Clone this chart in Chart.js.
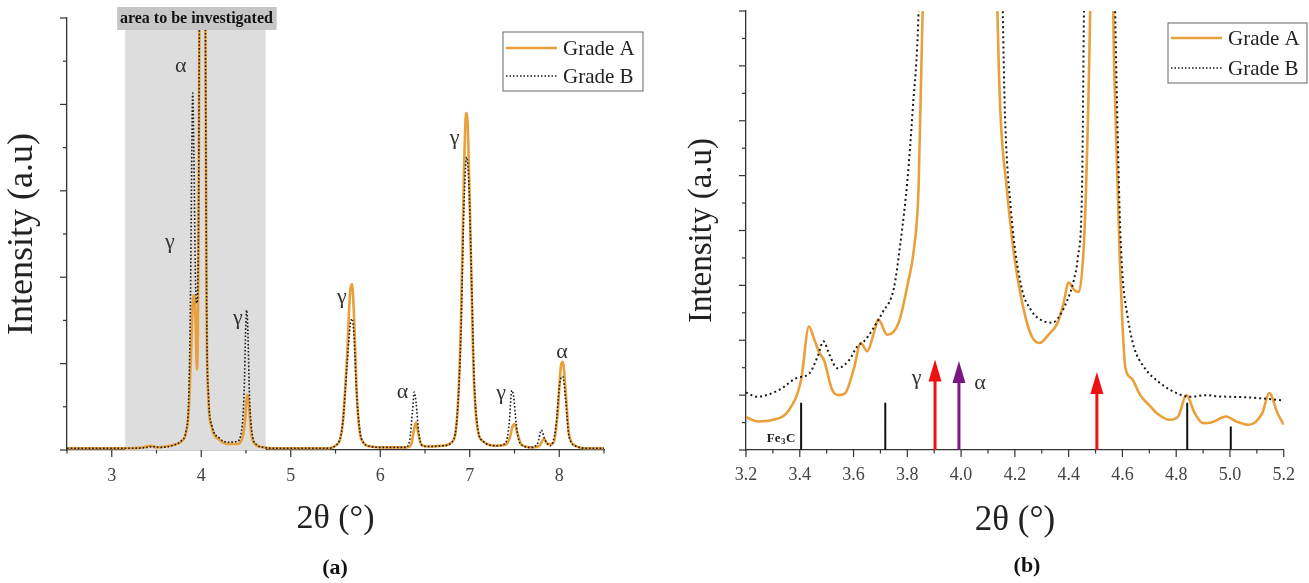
<!DOCTYPE html>
<html lang="en">
<head>
<meta charset="UTF-8">
<title>XRD patterns - Grade A / Grade B</title>
<script src="https://cdn.jsdelivr.net/npm/chart.js"></script>
<style>
  body { margin: 0; background: #fff; }
  .panel { position: absolute; top: 0; height: 583px; }
  #left { left: 0; width: 650px; }
  #right { left: 650px; width: 659px; }
</style>
</head>
<body>
<div class="panel" id="left"><canvas id="chartA"></canvas></div>
<div class="panel" id="right"><canvas id="chartB"></canvas></div>

<script>
// ---- panel (a): full pattern, 2theta 2.5 - 8.5 ----
const fullAX = [2.5, 2.9, 3.2, 3.35, 3.43, 3.5, 3.6, 3.7, 3.78, 3.83, 3.86, 3.885, 3.905, 3.92, 3.935, 3.952, 3.968, 3.98, 4.01, 4.045, 4.06, 4.08, 4.12, 4.2, 4.3, 4.4, 4.46, 4.49, 4.51, 4.52, 4.535, 4.555, 4.6, 4.7, 4.8, 5.4, 5.5, 5.58, 5.63, 5.665, 5.685, 5.705, 5.74, 5.79, 5.9, 6.0, 6.3, 6.35, 6.38, 6.4, 6.42, 6.46, 6.55, 6.7, 6.8, 6.86, 6.9, 6.935, 6.96, 6.98, 7.01, 7.04, 7.08, 7.15, 7.3, 7.4, 7.45, 7.48, 7.5, 7.53, 7.58, 7.7, 7.78, 7.83, 7.87, 7.93, 7.98, 8.02, 8.04, 8.07, 8.11, 8.2, 8.3, 8.5];
const fullAY = [0.02, 0.02, 0.02, 0.03, 0.05, 0.03, 0.04, 0.06, 0.1, 0.2, 0.45, 1.1, 1.7, 1.79, 1.55, 0.93, 2.2, 5.3, 14, 5.3, 1.6, 0.6, 0.25, 0.12, 0.07, 0.07, 0.14, 0.35, 0.62, 0.64, 0.5, 0.22, 0.07, 0.03, 0.02, 0.02, 0.05, 0.3, 1.1, 1.85, 1.92, 1.6, 0.6, 0.12, 0.04, 0.03, 0.03, 0.08, 0.25, 0.32, 0.22, 0.06, 0.04, 0.05, 0.09, 0.4, 1.4, 3.2, 3.9, 3.7, 2.4, 1.0, 0.3, 0.1, 0.05, 0.06, 0.15, 0.28, 0.3, 0.2, 0.06, 0.03, 0.05, 0.13, 0.07, 0.07, 0.4, 0.98, 1.02, 0.7, 0.18, 0.04, 0.02, 0.02];

const fullBX = [2.5, 3.2, 3.4, 3.45, 3.55, 3.7, 3.78, 3.83, 3.86, 3.88, 3.895, 3.905, 3.918, 3.935, 3.95, 3.968, 3.98, 4.01, 4.045, 4.06, 4.08, 4.12, 4.2, 4.3, 4.4, 4.45, 4.48, 4.495, 4.508, 4.52, 4.54, 4.57, 4.62, 4.7, 4.8, 5.4, 5.5, 5.58, 5.63, 5.665, 5.685, 5.705, 5.74, 5.79, 5.9, 6.0, 6.28, 6.33, 6.36, 6.38, 6.4, 6.43, 6.47, 6.55, 6.7, 6.8, 6.86, 6.9, 6.935, 6.965, 6.99, 7.02, 7.05, 7.09, 7.15, 7.3, 7.4, 7.44, 7.47, 7.49, 7.52, 7.56, 7.68, 7.76, 7.8, 7.84, 7.9, 7.96, 8.01, 8.04, 8.07, 8.11, 8.2, 8.3, 8.5];
const fullBY = [0.02, 0.02, 0.03, 0.04, 0.03, 0.06, 0.11, 0.22, 0.6, 1.8, 3.5, 4.13, 3.4, 2.0, 1.7, 2.4, 5.3, 14, 5.3, 1.7, 0.65, 0.28, 0.14, 0.09, 0.1, 0.22, 0.7, 1.35, 1.62, 1.4, 0.6, 0.18, 0.06, 0.03, 0.02, 0.02, 0.05, 0.3, 1.0, 1.45, 1.52, 1.35, 0.6, 0.13, 0.04, 0.03, 0.03, 0.12, 0.45, 0.67, 0.55, 0.2, 0.05, 0.04, 0.05, 0.09, 0.4, 1.3, 2.8, 3.39, 3.1, 2.0, 0.8, 0.25, 0.1, 0.05, 0.08, 0.3, 0.69, 0.62, 0.3, 0.08, 0.03, 0.08, 0.23, 0.12, 0.05, 0.25, 0.8, 0.85, 0.6, 0.15, 0.04, 0.02, 0.02];

const areaRange = [3.15, 4.72];

// ---- panel (b): zoom 3.2 - 5.2 ----
const zoomAX = [3.2, 3.245, 3.3, 3.36, 3.405, 3.434, 3.455, 3.473, 3.49, 3.52, 3.547, 3.57, 3.6, 3.627, 3.651, 3.676, 3.692, 3.725, 3.768, 3.805, 3.823, 3.842, 3.857, 3.87, 4.12, 4.135, 4.146, 4.169, 4.2, 4.239, 4.265, 4.292, 4.325, 4.359, 4.38, 4.4, 4.42, 4.438, 4.455, 4.465, 4.48, 4.49, 4.56, 4.566, 4.574, 4.59, 4.6, 4.611, 4.635, 4.666, 4.705, 4.728, 4.776, 4.807, 4.838, 4.869, 4.9, 4.93, 4.986, 5.023, 5.07, 5.12, 5.146, 5.177, 5.2];
const zoomAY = [0.6, 0.52, 0.55, 0.73, 1.28, 2.25, 2.0, 1.77, 1.64, 1.1, 1.0, 1.04, 1.46, 1.95, 1.8, 2.14, 2.38, 2.1, 2.32, 3.11, 3.6, 4.8, 8.0, 12, 12, 8.0, 6.17, 4.81, 3.45, 2.43, 2.05, 1.95, 2.1, 2.32, 2.65, 3.05, 2.92, 2.88, 3.6, 4.81, 8.0, 12, 12, 8.0, 6.17, 3.5, 2.3, 1.5, 1.3, 1.0, 0.79, 0.67, 0.55, 0.61, 1.0, 0.67, 0.49, 0.5, 0.61, 0.52, 0.46, 0.67, 1.04, 0.67, 0.46];

const zoomBX = [3.2, 3.24, 3.325, 3.387, 3.436, 3.467, 3.488, 3.51, 3.54, 3.584, 3.614, 3.639, 3.67, 3.707, 3.75, 3.775, 3.8, 3.82, 3.842, 3.86, 4.14, 4.155, 4.162, 4.185, 4.223, 4.26, 4.31, 4.34, 4.36, 4.396, 4.42, 4.434, 4.45, 4.457, 4.47, 4.56, 4.573, 4.58, 4.59, 4.6, 4.617, 4.642, 4.679, 4.74, 4.8, 4.85, 4.912, 4.95, 4.997, 5.06, 5.12, 5.2];
const zoomBY = [1.05, 0.97, 1.1, 1.31, 1.4, 1.71, 1.98, 1.74, 1.49, 1.64, 1.89, 1.98, 2.19, 2.5, 2.95, 3.8, 4.9, 6.2, 8.0, 12, 12, 8.0, 6.3, 4.4, 3.0, 2.55, 2.34, 2.32, 2.4, 2.74, 3.11, 3.5, 4.8, 8.0, 12, 12, 8.0, 6.3, 4.3, 3.2, 2.5, 1.89, 1.52, 1.22, 1.04, 0.97, 1.0, 0.98, 0.97, 0.96, 0.94, 0.9];

// Fe3C reference lines and phase arrows
const fe3cX = [3.405, 3.718, 4.841, 5.003];
const fe3cH = [0.86, 0.86, 0.86, 0.43];
const arrowX = [3.903, 3.992, 4.505];
const arrowTop = [1.65, 1.62, 1.42];

const serif = "'Liberation Serif', 'Times New Roman', serif";
const ORANGE = '#E9A03B';

function pts(xs, ys) {
    return xs.map((x, i) => ({ x: x, y: ys[i] }));
}

function sticks(xs, hs) {
    let out = [];
    xs.forEach((x, i) => {
        out.push({ x: x, y: 0 }, { x: x, y: hs[i] }, { x: x, y: null });
    });
    return out;
}

// draws tick marks, legend box, peak labels, arrows and the panel tag
const decorations = {
    id: 'decorations',
    beforeDatasetsDraw(chart, args, opts) {
        if (!opts.area) return;
        const { ctx, chartArea, scales: { x } } = chart;
        const x0 = x.getPixelForValue(opts.area[0]);
        const x1 = x.getPixelForValue(opts.area[1]);
        ctx.save();
        ctx.fillStyle = '#dddddd';
        ctx.fillRect(x0, chartArea.top + 12, x1 - x0, chartArea.bottom - chartArea.top - 12);
        ctx.restore();
    },
    afterDatasetsDraw(chart, args, opts) {
        if (!opts.area) return;
        const { ctx, chartArea, scales: { x } } = chart;
        const x0 = x.getPixelForValue(opts.area[0]);
        const x1 = x.getPixelForValue(opts.area[1]);
        ctx.save();
        ctx.fillStyle = '#c6c6c6';
        ctx.fillRect(x0 - 8, chartArea.top - 11, x1 - x0 + 19, 23);
        ctx.fillStyle = '#111';
        ctx.font = 'bold 16px ' + serif;
        ctx.textAlign = 'center';
        ctx.textBaseline = 'middle';
        ctx.fillText(opts.areaLabel, (x0 + x1) / 2 + 1, chartArea.top + 1);
        ctx.restore();
    },
    afterDraw(chart, args, opts) {
        const { ctx, scales: { x, y } } = chart;
        ctx.save();

        // tick marks (outside)
        ctx.strokeStyle = '#333';
        ctx.lineWidth = 1.2;
        x.ticks.forEach(t => {
            const px = x.getPixelForValue(t.value);
            const len = t.label !== '' ? 7 : 3.5;
            ctx.beginPath();
            ctx.moveTo(px, x.top);
            ctx.lineTo(px, x.top + len);
            ctx.stroke();
        });
        y.ticks.forEach(t => {
            const py = y.getPixelForValue(t.value);
            const major = Math.abs(t.value - Math.round(t.value)) < 1e-6;
            const len = major ? 7 : 4;
            ctx.beginPath();
            ctx.moveTo(y.right - len, py);
            ctx.lineTo(y.right, py);
            ctx.stroke();
        });

        // arrows
        (opts.arrowColors || []).forEach((c, i) => {
            const px = x.getPixelForValue(arrowX[i]);
            const top = y.getPixelForValue(arrowTop[i]);
            const base = y.getPixelForValue(0);
            ctx.strokeStyle = c;
            ctx.fillStyle = c;
            ctx.lineWidth = 3;
            ctx.beginPath();
            ctx.moveTo(px, base);
            ctx.lineTo(px, top + 18);
            ctx.stroke();
            ctx.beginPath();
            ctx.moveTo(px, top);
            ctx.lineTo(px - 6.5, top + 22);
            ctx.lineTo(px + 6.5, top + 22);
            ctx.closePath();
            ctx.fill();
        });

        // peak labels
        ctx.fillStyle = '#333';
        ctx.textAlign = 'center';
        ctx.textBaseline = 'middle';
        (opts.labels || []).forEach(l => {
            ctx.font = '22px ' + serif;
            ctx.fillText(l.text, x.getPixelForValue(l.x), y.getPixelForValue(l.y));
        });
        if (opts.fe3c) {
            let fx = x.getPixelForValue(opts.fe3c.x) - 15;
            const fy = y.getPixelForValue(opts.fe3c.y);
            ctx.fillStyle = '#222';
            ctx.textAlign = 'left';
            ctx.font = 'bold 13px ' + serif;
            ctx.fillText('Fe', fx, fy);
            fx += ctx.measureText('Fe').width + 0.5;
            ctx.font = 'bold 9px ' + serif;
            ctx.fillText('3', fx, fy + 3);
            fx += ctx.measureText('3').width + 0.5;
            ctx.font = 'bold 13px ' + serif;
            ctx.fillText('C', fx, fy);
        }

        // legend
        const lg = opts.legend;
        ctx.strokeStyle = '#666';
        ctx.lineWidth = 1;
        ctx.strokeRect(lg.x, lg.y, lg.w, lg.h);
        lg.rows.forEach(r => {
            ctx.strokeStyle = r.color;
            ctx.lineWidth = r.width;
            ctx.setLineDash(r.dash);
            ctx.beginPath();
            ctx.moveTo(lg.x + 3, r.y);
            ctx.lineTo(lg.x + lg.line, r.y);
            ctx.stroke();
            ctx.setLineDash([]);
            ctx.fillStyle = '#222';
            ctx.font = '21px ' + serif;
            ctx.textAlign = 'left';
            ctx.fillText(r.label, lg.x + lg.line + 6, r.y + 1);
        });

        // panel tag
        ctx.fillStyle = '#111';
        ctx.font = 'bold 22px ' + serif;
        ctx.textAlign = 'center';
        ctx.fillText(opts.tag.text, opts.tag.x, opts.tag.y);
        ctx.restore();
    }
};

function makeScales(xMin, xMax, xStep, isLabel, fmt, yMax, yWidth, yTitleSize, yTitlePad, xLabelPad, xTitleSize, xTitlePad) {
    return {
        x: {
            type: 'linear', min: xMin, max: xMax,
            grid: { display: false, drawTicks: false },
            border: { display: true, color: '#333', width: 1.3 },
            ticks: {
                stepSize: xStep, autoSkip: false, maxRotation: 0, padding: xLabelPad,
                color: '#444', font: { family: serif, size: 18 },
                callback: v => isLabel(v) ? fmt(v) : ''
            },
            title: {
                display: true, text: '2θ (°)', color: '#222',
                font: { family: serif, size: xTitleSize }, padding: { top: 0, bottom: xTitlePad }
            },
            afterFit: s => { s.height = 133; }
        },
        y: {
            min: 0, max: yMax,
            grid: { display: false, drawTicks: false },
            border: { display: true, color: '#333', width: 1.3 },
            ticks: { stepSize: 0.5, display: false },
            title: {
                display: true, text: 'Intensity (a.u)', color: '#222',
                font: { family: serif, size: yTitleSize }, padding: { top: yTitlePad, bottom: 0 }
            },
            afterFit: s => { s.width = yWidth; }
        }
    };
}

const common = {
    responsive: true,
    maintainAspectRatio: false,
    animation: false,
    events: []
};

new Chart(document.getElementById('chartA'), {
    type: 'line',
    data: {
        datasets: [
            {
                label: 'Grade B', data: pts(fullBX, fullBY), order: 0,
                borderColor: '#1a1a1a', borderWidth: 1.6, borderDash: [1.6, 2],
                pointRadius: 0, cubicInterpolationMode: 'monotone'
            },
            {
                label: 'Grade A', data: pts(fullAX, fullAY), order: 1,
                borderColor: ORANGE, borderWidth: 2.6,
                pointRadius: 0, cubicInterpolationMode: 'monotone'
            }
        ]
    },
    options: Object.assign({}, common, {
        layout: { padding: { top: 18, right: 46, left: 0, bottom: 0 } },
        scales: makeScales(2.5, 8.5, 0.5, v => Number.isInteger(v), v => String(v), 5, 67, 36, 1, 15, 34, 44),
        plugins: {
            legend: { display: false },
            tooltip: { enabled: false },
            decorations: {
                area: areaRange,
                areaLabel: 'area to be investigated',
                labels: [
                    { text: 'α', x: 3.77, y: 4.44 },
                    { text: 'γ', x: 3.65, y: 2.40 },
                    { text: 'γ', x: 4.41, y: 1.53 },
                    { text: 'γ', x: 5.57, y: 1.77 },
                    { text: 'α', x: 6.25, y: 0.67 },
                    { text: 'γ', x: 6.83, y: 3.61 },
                    { text: 'γ', x: 7.35, y: 0.66 },
                    { text: 'α', x: 8.03, y: 1.13 }
                ],
                legend: {
                    x: 503, y: 32, w: 140, h: 59, line: 54,
                    rows: [
                        { label: 'Grade A', y: 48, color: ORANGE, width: 2.6, dash: [] },
                        { label: 'Grade B', y: 76, color: '#1a1a1a', width: 1.5, dash: [1.5, 2] }
                    ]
                },
                tag: { text: '(a)', x: 335, y: 568 }
            }
        }
    }),
    plugins: [decorations]
});

new Chart(document.getElementById('chartB'), {
    type: 'line',
    data: {
        datasets: [
            {
                label: 'Grade B', data: pts(zoomBX, zoomBY), order: 0,
                borderColor: '#1a1a1a', borderWidth: 2, borderDash: [2, 3],
                pointRadius: 0, cubicInterpolationMode: 'monotone'
            },
            {
                label: 'Grade A', data: pts(zoomAX, zoomAY), order: 1,
                borderColor: ORANGE, borderWidth: 2.6,
                pointRadius: 0, cubicInterpolationMode: 'monotone'
            },
            {
                label: 'Fe3C', data: sticks(fe3cX, fe3cH), order: 2,
                borderColor: '#111', borderWidth: 2, pointRadius: 0, spanGaps: false
            }
        ]
    },
    options: Object.assign({}, common, {
        layout: { padding: { top: 11, right: 21, left: 0, bottom: 0 } },
        scales: makeScales(3.2, 5.2, 0.1, v => Math.round(v * 10) % 2 === 0, v => v.toFixed(1), 8, 96, 33, 33, 14, 35, 41),
        plugins: {
            legend: { display: false },
            tooltip: { enabled: false },
            decorations: {
                arrowColors: ['#EE1111', '#7B1685', '#EE1111'],
                labels: [
                    { text: 'γ', x: 3.835, y: 1.31 },
                    { text: 'α', x: 4.07, y: 1.22 }
                ],
                fe3c: { x: 3.333, y: 0.2 },
                legend: {
                    x: 518, y: 23, w: 139, h: 60, line: 54,
                    rows: [
                        { label: 'Grade A', y: 38, color: ORANGE, width: 2.6, dash: [] },
                        { label: 'Grade B', y: 68, color: '#1a1a1a', width: 1.5, dash: [1.5, 2] }
                    ]
                },
                tag: { text: '(b)', x: 377, y: 566 }
            }
        }
    }),
    plugins: [decorations]
});
</script>
</body>
</html>
